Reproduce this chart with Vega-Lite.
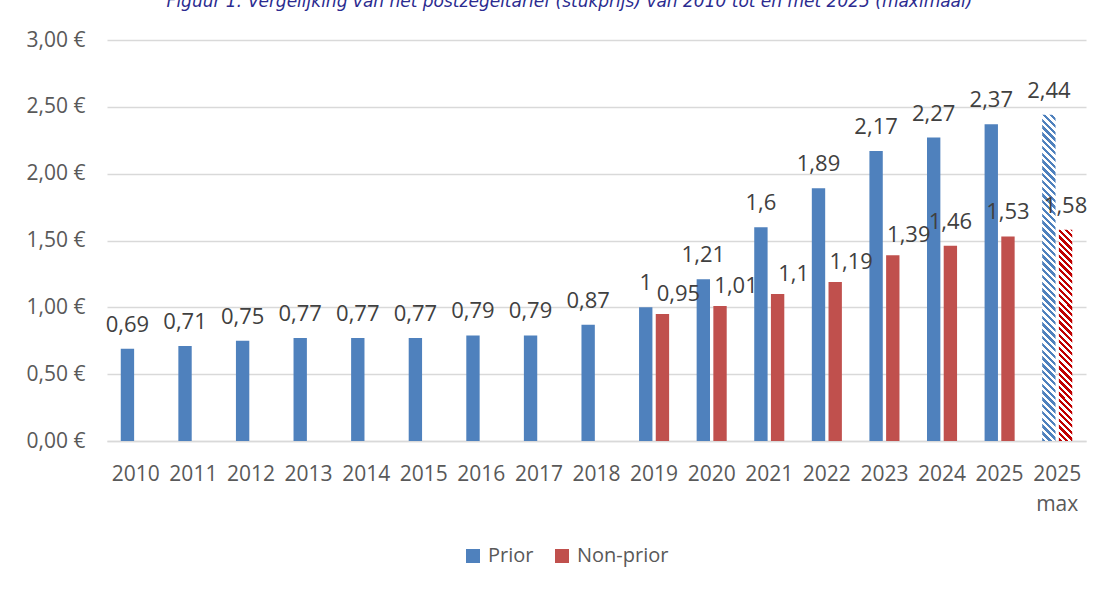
{
  "$schema": "https://vega.github.io/schema/vega-lite/v6.json",
  "width": 979,
  "height": 401,
  "autosize": {"type": "none"},
  "padding": {"left": 107, "top": 40, "right": 27, "bottom": 148},
  "background": "white",
  "title": {
    "text": "Figuur 1: Vergelijking van het postzegeltarief (stukprijs) van 2010 tot en met 2025 (maximaal)",
    "font": "DejaVu Sans",
    "fontStyle": "italic",
    "fontWeight": "normal",
    "fontSize": 17,
    "color": "#2B2B8F",
    "anchor": "middle",
    "baseline": "alphabetic",
    "offset": 5,
    "dx": -27
  },
  "config": {
    "view": {"stroke": null},
    "locale": {"number": {"decimal": ",", "thousands": ".", "grouping": [3], "currency": ["€", ""]}},
    "font": "Open Sans"
  },
  "data": {
    "values": [
      {"jaar": "2010", "reeks": "Prior", "prijs": 0.69},
      {"jaar": "2011", "reeks": "Prior", "prijs": 0.71},
      {"jaar": "2012", "reeks": "Prior", "prijs": 0.75},
      {"jaar": "2013", "reeks": "Prior", "prijs": 0.77},
      {"jaar": "2014", "reeks": "Prior", "prijs": 0.77},
      {"jaar": "2015", "reeks": "Prior", "prijs": 0.77},
      {"jaar": "2016", "reeks": "Prior", "prijs": 0.79},
      {"jaar": "2017", "reeks": "Prior", "prijs": 0.79},
      {"jaar": "2018", "reeks": "Prior", "prijs": 0.87},
      {"jaar": "2019", "reeks": "Prior", "prijs": 1.00},
      {"jaar": "2020", "reeks": "Prior", "prijs": 1.21},
      {"jaar": "2021", "reeks": "Prior", "prijs": 1.60},
      {"jaar": "2022", "reeks": "Prior", "prijs": 1.89},
      {"jaar": "2023", "reeks": "Prior", "prijs": 2.17},
      {"jaar": "2024", "reeks": "Prior", "prijs": 2.27},
      {"jaar": "2025", "reeks": "Prior", "prijs": 2.37},
      {"jaar": "2025 max", "reeks": "Prior", "prijs": 2.44},
      {"jaar": "2019", "reeks": "Non-prior", "prijs": 0.95},
      {"jaar": "2020", "reeks": "Non-prior", "prijs": 1.01},
      {"jaar": "2021", "reeks": "Non-prior", "prijs": 1.10},
      {"jaar": "2022", "reeks": "Non-prior", "prijs": 1.19},
      {"jaar": "2023", "reeks": "Non-prior", "prijs": 1.39},
      {"jaar": "2024", "reeks": "Non-prior", "prijs": 1.46},
      {"jaar": "2025", "reeks": "Non-prior", "prijs": 1.53},
      {"jaar": "2025 max", "reeks": "Non-prior", "prijs": 1.58}
    ]
  },
  "encoding": {
    "x": {
      "field": "jaar",
      "type": "ordinal",
      "sort": null,
      "title": null,
      "scale": {"paddingInner": 0.42, "paddingOuter": 0.21},
      "axis": {
        "labelExpr": "split(datum.value, ' ')",
        "labelAngle": 0,
        "labelFontSize": 21,
        "labelColor": "#595959",
        "labelPadding": 22,
        "labelLineHeight": 30,
        "labelBaseline": "top",
        "labelOverlap": false,
        "ticks": false,
        "domainColor": "#D9D9D9",
        "domainWidth": 1.5
      }
    },
    "xOffset": {
      "field": "reeks",
      "type": "nominal",
      "scale": {"domain": ["Prior", "Non-prior"], "paddingInner": 0.2, "paddingOuter": 0.1}
    },
    "y": {
      "field": "prijs",
      "type": "quantitative",
      "title": null,
      "scale": {"domain": [0, 3], "nice": false},
      "axis": {
        "values": [0, 0.5, 1, 1.5, 2, 2.5, 3],
        "labelExpr": "replace(format(datum.value, '.2f'), '.', ',') + ' €'",
        "labelFontSize": 21,
        "labelColor": "#595959",
        "labelPadding": 22,
        "ticks": false,
        "domain": false,
        "gridColor": "#D9D9D9",
        "gridWidth": 1.5
      }
    }
  },
  "layer": [
    {
      "mark": {"type": "bar"},
      "encoding": {
        "fill": {
          "condition": [
            {
              "test": "datum.jaar === '2025 max' && datum.reeks === 'Prior'",
              "value": {
                "gradient": "linear", "x1": 0, "y1": 1, "x2": 0.0426, "y2": -0.04,
                "stops": [
{"offset":0,"color":"#4F81BD"},{"offset":0.01,"color":"#4F81BD"},{"offset":0.01,"color":"#fff"},{"offset":0.02,"color":"#fff"},
{"offset":0.02,"color":"#4F81BD"},{"offset":0.03,"color":"#4F81BD"},{"offset":0.03,"color":"#fff"},{"offset":0.04,"color":"#fff"},
{"offset":0.04,"color":"#4F81BD"},{"offset":0.05,"color":"#4F81BD"},{"offset":0.05,"color":"#fff"},{"offset":0.06,"color":"#fff"},
{"offset":0.06,"color":"#4F81BD"},{"offset":0.07,"color":"#4F81BD"},{"offset":0.07,"color":"#fff"},{"offset":0.08,"color":"#fff"},
{"offset":0.08,"color":"#4F81BD"},{"offset":0.09,"color":"#4F81BD"},{"offset":0.09,"color":"#fff"},{"offset":0.10,"color":"#fff"},
{"offset":0.10,"color":"#4F81BD"},{"offset":0.11,"color":"#4F81BD"},{"offset":0.11,"color":"#fff"},{"offset":0.12,"color":"#fff"},
{"offset":0.12,"color":"#4F81BD"},{"offset":0.13,"color":"#4F81BD"},{"offset":0.13,"color":"#fff"},{"offset":0.14,"color":"#fff"},
{"offset":0.14,"color":"#4F81BD"},{"offset":0.15,"color":"#4F81BD"},{"offset":0.15,"color":"#fff"},{"offset":0.16,"color":"#fff"},
{"offset":0.16,"color":"#4F81BD"},{"offset":0.17,"color":"#4F81BD"},{"offset":0.17,"color":"#fff"},{"offset":0.18,"color":"#fff"},
{"offset":0.18,"color":"#4F81BD"},{"offset":0.19,"color":"#4F81BD"},{"offset":0.19,"color":"#fff"},{"offset":0.20,"color":"#fff"},
{"offset":0.20,"color":"#4F81BD"},{"offset":0.21,"color":"#4F81BD"},{"offset":0.21,"color":"#fff"},{"offset":0.22,"color":"#fff"},
{"offset":0.22,"color":"#4F81BD"},{"offset":0.23,"color":"#4F81BD"},{"offset":0.23,"color":"#fff"},{"offset":0.24,"color":"#fff"},
{"offset":0.24,"color":"#4F81BD"},{"offset":0.25,"color":"#4F81BD"},{"offset":0.25,"color":"#fff"},{"offset":0.26,"color":"#fff"},
{"offset":0.26,"color":"#4F81BD"},{"offset":0.27,"color":"#4F81BD"},{"offset":0.27,"color":"#fff"},{"offset":0.28,"color":"#fff"},
{"offset":0.28,"color":"#4F81BD"},{"offset":0.29,"color":"#4F81BD"},{"offset":0.29,"color":"#fff"},{"offset":0.30,"color":"#fff"},
{"offset":0.30,"color":"#4F81BD"},{"offset":0.31,"color":"#4F81BD"},{"offset":0.31,"color":"#fff"},{"offset":0.32,"color":"#fff"},
{"offset":0.32,"color":"#4F81BD"},{"offset":0.33,"color":"#4F81BD"},{"offset":0.33,"color":"#fff"},{"offset":0.34,"color":"#fff"},
{"offset":0.34,"color":"#4F81BD"},{"offset":0.35,"color":"#4F81BD"},{"offset":0.35,"color":"#fff"},{"offset":0.36,"color":"#fff"},
{"offset":0.36,"color":"#4F81BD"},{"offset":0.37,"color":"#4F81BD"},{"offset":0.37,"color":"#fff"},{"offset":0.38,"color":"#fff"},
{"offset":0.38,"color":"#4F81BD"},{"offset":0.39,"color":"#4F81BD"},{"offset":0.39,"color":"#fff"},{"offset":0.40,"color":"#fff"},
{"offset":0.40,"color":"#4F81BD"},{"offset":0.41,"color":"#4F81BD"},{"offset":0.41,"color":"#fff"},{"offset":0.42,"color":"#fff"},
{"offset":0.42,"color":"#4F81BD"},{"offset":0.43,"color":"#4F81BD"},{"offset":0.43,"color":"#fff"},{"offset":0.44,"color":"#fff"},
{"offset":0.44,"color":"#4F81BD"},{"offset":0.45,"color":"#4F81BD"},{"offset":0.45,"color":"#fff"},{"offset":0.46,"color":"#fff"},
{"offset":0.46,"color":"#4F81BD"},{"offset":0.47,"color":"#4F81BD"},{"offset":0.47,"color":"#fff"},{"offset":0.48,"color":"#fff"},
{"offset":0.48,"color":"#4F81BD"},{"offset":0.49,"color":"#4F81BD"},{"offset":0.49,"color":"#fff"},{"offset":0.50,"color":"#fff"},
{"offset":0.50,"color":"#4F81BD"},{"offset":0.51,"color":"#4F81BD"},{"offset":0.51,"color":"#fff"},{"offset":0.52,"color":"#fff"},
{"offset":0.52,"color":"#4F81BD"},{"offset":0.53,"color":"#4F81BD"},{"offset":0.53,"color":"#fff"},{"offset":0.54,"color":"#fff"},
{"offset":0.54,"color":"#4F81BD"},{"offset":0.55,"color":"#4F81BD"},{"offset":0.55,"color":"#fff"},{"offset":0.56,"color":"#fff"},
{"offset":0.56,"color":"#4F81BD"},{"offset":0.57,"color":"#4F81BD"},{"offset":0.57,"color":"#fff"},{"offset":0.58,"color":"#fff"},
{"offset":0.58,"color":"#4F81BD"},{"offset":0.59,"color":"#4F81BD"},{"offset":0.59,"color":"#fff"},{"offset":0.60,"color":"#fff"},
{"offset":0.60,"color":"#4F81BD"},{"offset":0.61,"color":"#4F81BD"},{"offset":0.61,"color":"#fff"},{"offset":0.62,"color":"#fff"},
{"offset":0.62,"color":"#4F81BD"},{"offset":0.63,"color":"#4F81BD"},{"offset":0.63,"color":"#fff"},{"offset":0.64,"color":"#fff"},
{"offset":0.64,"color":"#4F81BD"},{"offset":0.65,"color":"#4F81BD"},{"offset":0.65,"color":"#fff"},{"offset":0.66,"color":"#fff"},
{"offset":0.66,"color":"#4F81BD"},{"offset":0.67,"color":"#4F81BD"},{"offset":0.67,"color":"#fff"},{"offset":0.68,"color":"#fff"},
{"offset":0.68,"color":"#4F81BD"},{"offset":0.69,"color":"#4F81BD"},{"offset":0.69,"color":"#fff"},{"offset":0.70,"color":"#fff"},
{"offset":0.70,"color":"#4F81BD"},{"offset":0.71,"color":"#4F81BD"},{"offset":0.71,"color":"#fff"},{"offset":0.72,"color":"#fff"},
{"offset":0.72,"color":"#4F81BD"},{"offset":0.73,"color":"#4F81BD"},{"offset":0.73,"color":"#fff"},{"offset":0.74,"color":"#fff"},
{"offset":0.74,"color":"#4F81BD"},{"offset":0.75,"color":"#4F81BD"},{"offset":0.75,"color":"#fff"},{"offset":0.76,"color":"#fff"},
{"offset":0.76,"color":"#4F81BD"},{"offset":0.77,"color":"#4F81BD"},{"offset":0.77,"color":"#fff"},{"offset":0.78,"color":"#fff"},
{"offset":0.78,"color":"#4F81BD"},{"offset":0.79,"color":"#4F81BD"},{"offset":0.79,"color":"#fff"},{"offset":0.80,"color":"#fff"},
{"offset":0.80,"color":"#4F81BD"},{"offset":0.81,"color":"#4F81BD"},{"offset":0.81,"color":"#fff"},{"offset":0.82,"color":"#fff"},
{"offset":0.82,"color":"#4F81BD"},{"offset":0.83,"color":"#4F81BD"},{"offset":0.83,"color":"#fff"},{"offset":0.84,"color":"#fff"},
{"offset":0.84,"color":"#4F81BD"},{"offset":0.85,"color":"#4F81BD"},{"offset":0.85,"color":"#fff"},{"offset":0.86,"color":"#fff"},
{"offset":0.86,"color":"#4F81BD"},{"offset":0.87,"color":"#4F81BD"},{"offset":0.87,"color":"#fff"},{"offset":0.88,"color":"#fff"},
{"offset":0.88,"color":"#4F81BD"},{"offset":0.89,"color":"#4F81BD"},{"offset":0.89,"color":"#fff"},{"offset":0.90,"color":"#fff"},
{"offset":0.90,"color":"#4F81BD"},{"offset":0.91,"color":"#4F81BD"},{"offset":0.91,"color":"#fff"},{"offset":0.92,"color":"#fff"},
{"offset":0.92,"color":"#4F81BD"},{"offset":0.93,"color":"#4F81BD"},{"offset":0.93,"color":"#fff"},{"offset":0.94,"color":"#fff"},
{"offset":0.94,"color":"#4F81BD"},{"offset":0.95,"color":"#4F81BD"},{"offset":0.95,"color":"#fff"},{"offset":0.96,"color":"#fff"},
{"offset":0.96,"color":"#4F81BD"},{"offset":0.97,"color":"#4F81BD"},{"offset":0.97,"color":"#fff"},{"offset":0.98,"color":"#fff"},
{"offset":0.98,"color":"#4F81BD"},{"offset":0.99,"color":"#4F81BD"},{"offset":0.99,"color":"#fff"},{"offset":1,"color":"#fff"}
                ]
              }
            },
            {
              "test": "datum.jaar === '2025 max' && datum.reeks === 'Non-prior'",
              "value": {
                "gradient": "linear", "x1": 0, "y1": 1, "x2": 0.098, "y2": -0.545,
                "stops": [
{"offset":0,"color":"#C00000"},{"offset":0.01,"color":"#C00000"},{"offset":0.01,"color":"#fff"},{"offset":0.02,"color":"#fff"},
{"offset":0.02,"color":"#C00000"},{"offset":0.03,"color":"#C00000"},{"offset":0.03,"color":"#fff"},{"offset":0.04,"color":"#fff"},
{"offset":0.04,"color":"#C00000"},{"offset":0.05,"color":"#C00000"},{"offset":0.05,"color":"#fff"},{"offset":0.06,"color":"#fff"},
{"offset":0.06,"color":"#C00000"},{"offset":0.07,"color":"#C00000"},{"offset":0.07,"color":"#fff"},{"offset":0.08,"color":"#fff"},
{"offset":0.08,"color":"#C00000"},{"offset":0.09,"color":"#C00000"},{"offset":0.09,"color":"#fff"},{"offset":0.10,"color":"#fff"},
{"offset":0.10,"color":"#C00000"},{"offset":0.11,"color":"#C00000"},{"offset":0.11,"color":"#fff"},{"offset":0.12,"color":"#fff"},
{"offset":0.12,"color":"#C00000"},{"offset":0.13,"color":"#C00000"},{"offset":0.13,"color":"#fff"},{"offset":0.14,"color":"#fff"},
{"offset":0.14,"color":"#C00000"},{"offset":0.15,"color":"#C00000"},{"offset":0.15,"color":"#fff"},{"offset":0.16,"color":"#fff"},
{"offset":0.16,"color":"#C00000"},{"offset":0.17,"color":"#C00000"},{"offset":0.17,"color":"#fff"},{"offset":0.18,"color":"#fff"},
{"offset":0.18,"color":"#C00000"},{"offset":0.19,"color":"#C00000"},{"offset":0.19,"color":"#fff"},{"offset":0.20,"color":"#fff"},
{"offset":0.20,"color":"#C00000"},{"offset":0.21,"color":"#C00000"},{"offset":0.21,"color":"#fff"},{"offset":0.22,"color":"#fff"},
{"offset":0.22,"color":"#C00000"},{"offset":0.23,"color":"#C00000"},{"offset":0.23,"color":"#fff"},{"offset":0.24,"color":"#fff"},
{"offset":0.24,"color":"#C00000"},{"offset":0.25,"color":"#C00000"},{"offset":0.25,"color":"#fff"},{"offset":0.26,"color":"#fff"},
{"offset":0.26,"color":"#C00000"},{"offset":0.27,"color":"#C00000"},{"offset":0.27,"color":"#fff"},{"offset":0.28,"color":"#fff"},
{"offset":0.28,"color":"#C00000"},{"offset":0.29,"color":"#C00000"},{"offset":0.29,"color":"#fff"},{"offset":0.30,"color":"#fff"},
{"offset":0.30,"color":"#C00000"},{"offset":0.31,"color":"#C00000"},{"offset":0.31,"color":"#fff"},{"offset":0.32,"color":"#fff"},
{"offset":0.32,"color":"#C00000"},{"offset":0.33,"color":"#C00000"},{"offset":0.33,"color":"#fff"},{"offset":0.34,"color":"#fff"},
{"offset":0.34,"color":"#C00000"},{"offset":0.35,"color":"#C00000"},{"offset":0.35,"color":"#fff"},{"offset":0.36,"color":"#fff"},
{"offset":0.36,"color":"#C00000"},{"offset":0.37,"color":"#C00000"},{"offset":0.37,"color":"#fff"},{"offset":0.38,"color":"#fff"},
{"offset":0.38,"color":"#C00000"},{"offset":0.39,"color":"#C00000"},{"offset":0.39,"color":"#fff"},{"offset":0.40,"color":"#fff"},
{"offset":0.40,"color":"#C00000"},{"offset":0.41,"color":"#C00000"},{"offset":0.41,"color":"#fff"},{"offset":0.42,"color":"#fff"},
{"offset":0.42,"color":"#C00000"},{"offset":0.43,"color":"#C00000"},{"offset":0.43,"color":"#fff"},{"offset":0.44,"color":"#fff"},
{"offset":0.44,"color":"#C00000"},{"offset":0.45,"color":"#C00000"},{"offset":0.45,"color":"#fff"},{"offset":0.46,"color":"#fff"},
{"offset":0.46,"color":"#C00000"},{"offset":0.47,"color":"#C00000"},{"offset":0.47,"color":"#fff"},{"offset":0.48,"color":"#fff"},
{"offset":0.48,"color":"#C00000"},{"offset":0.49,"color":"#C00000"},{"offset":0.49,"color":"#fff"},{"offset":0.50,"color":"#fff"},
{"offset":0.50,"color":"#C00000"},{"offset":0.51,"color":"#C00000"},{"offset":0.51,"color":"#fff"},{"offset":0.52,"color":"#fff"},
{"offset":0.52,"color":"#C00000"},{"offset":0.53,"color":"#C00000"},{"offset":0.53,"color":"#fff"},{"offset":0.54,"color":"#fff"},
{"offset":0.54,"color":"#C00000"},{"offset":0.55,"color":"#C00000"},{"offset":0.55,"color":"#fff"},{"offset":0.56,"color":"#fff"},
{"offset":0.56,"color":"#C00000"},{"offset":0.57,"color":"#C00000"},{"offset":0.57,"color":"#fff"},{"offset":0.58,"color":"#fff"},
{"offset":0.58,"color":"#C00000"},{"offset":0.59,"color":"#C00000"},{"offset":0.59,"color":"#fff"},{"offset":0.60,"color":"#fff"},
{"offset":0.60,"color":"#C00000"},{"offset":0.61,"color":"#C00000"},{"offset":0.61,"color":"#fff"},{"offset":0.62,"color":"#fff"},
{"offset":0.62,"color":"#C00000"},{"offset":0.63,"color":"#C00000"},{"offset":0.63,"color":"#fff"},{"offset":0.64,"color":"#fff"},
{"offset":0.64,"color":"#C00000"},{"offset":0.65,"color":"#C00000"},{"offset":0.65,"color":"#fff"},{"offset":0.66,"color":"#fff"},
{"offset":0.66,"color":"#C00000"},{"offset":0.67,"color":"#C00000"},{"offset":0.67,"color":"#fff"},{"offset":0.68,"color":"#fff"},
{"offset":0.68,"color":"#C00000"},{"offset":0.69,"color":"#C00000"},{"offset":0.69,"color":"#fff"},{"offset":0.70,"color":"#fff"},
{"offset":0.70,"color":"#C00000"},{"offset":0.71,"color":"#C00000"},{"offset":0.71,"color":"#fff"},{"offset":0.72,"color":"#fff"},
{"offset":0.72,"color":"#C00000"},{"offset":0.73,"color":"#C00000"},{"offset":0.73,"color":"#fff"},{"offset":0.74,"color":"#fff"},
{"offset":0.74,"color":"#C00000"},{"offset":0.75,"color":"#C00000"},{"offset":0.75,"color":"#fff"},{"offset":0.76,"color":"#fff"},
{"offset":0.76,"color":"#C00000"},{"offset":0.77,"color":"#C00000"},{"offset":0.77,"color":"#fff"},{"offset":0.78,"color":"#fff"},
{"offset":0.78,"color":"#C00000"},{"offset":0.79,"color":"#C00000"},{"offset":0.79,"color":"#fff"},{"offset":0.80,"color":"#fff"},
{"offset":0.80,"color":"#C00000"},{"offset":0.81,"color":"#C00000"},{"offset":0.81,"color":"#fff"},{"offset":0.82,"color":"#fff"},
{"offset":0.82,"color":"#C00000"},{"offset":0.83,"color":"#C00000"},{"offset":0.83,"color":"#fff"},{"offset":0.84,"color":"#fff"},
{"offset":0.84,"color":"#C00000"},{"offset":0.85,"color":"#C00000"},{"offset":0.85,"color":"#fff"},{"offset":0.86,"color":"#fff"},
{"offset":0.86,"color":"#C00000"},{"offset":0.87,"color":"#C00000"},{"offset":0.87,"color":"#fff"},{"offset":0.88,"color":"#fff"},
{"offset":0.88,"color":"#C00000"},{"offset":0.89,"color":"#C00000"},{"offset":0.89,"color":"#fff"},{"offset":0.90,"color":"#fff"},
{"offset":0.90,"color":"#C00000"},{"offset":0.91,"color":"#C00000"},{"offset":0.91,"color":"#fff"},{"offset":0.92,"color":"#fff"},
{"offset":0.92,"color":"#C00000"},{"offset":0.93,"color":"#C00000"},{"offset":0.93,"color":"#fff"},{"offset":0.94,"color":"#fff"},
{"offset":0.94,"color":"#C00000"},{"offset":0.95,"color":"#C00000"},{"offset":0.95,"color":"#fff"},{"offset":0.96,"color":"#fff"},
{"offset":0.96,"color":"#C00000"},{"offset":0.97,"color":"#C00000"},{"offset":0.97,"color":"#fff"},{"offset":0.98,"color":"#fff"},
{"offset":0.98,"color":"#C00000"},{"offset":0.99,"color":"#C00000"},{"offset":0.99,"color":"#fff"},{"offset":1,"color":"#fff"}
                ]
              }
            }
          ],
          "field": "reeks",
          "type": "nominal",
          "scale": {"domain": ["Prior", "Non-prior"], "range": ["#4F81BD", "#C0504D"]},
          "legend": {
            "title": null,
            "orient": "none",
            "legendX": 356,
            "legendY": 506,
            "direction": "horizontal",
            "symbolType": "square",
            "symbolSize": 196,
            "symbolStrokeWidth": 0,
            "labelFontSize": 20,
            "labelColor": "#595959",
            "labelOffset": 5,
            "columnPadding": 18,
            "padding": 0
          }
        }
      }
    },
    {
      "transform": [{"filter": "!(datum.reeks === 'Non-prior' && indexof(['2019','2020','2021','2022','2023'], datum.jaar) >= 0)"}],
      "mark": {"type": "text", "baseline": "alphabetic", "dy": -17, "fontSize": 22, "color": "#404040"},
      "encoding": {"text": {"field": "prijs", "type": "quantitative", "format": ".3~r"}}
    },
    {
      "transform": [{"filter": "datum.reeks === 'Non-prior' && indexof(['2019','2020','2021','2022','2023'], datum.jaar) >= 0"}],
      "mark": {"type": "text", "baseline": "alphabetic", "dy": -13, "dx": 16, "fontSize": 22, "color": "#404040"},
      "encoding": {"text": {"field": "prijs", "type": "quantitative", "format": ".3~r"}}
    }
  ]
}
